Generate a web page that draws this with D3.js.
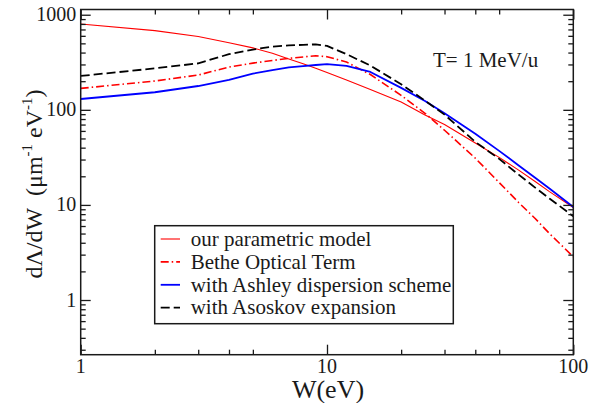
<!DOCTYPE html>
<html><head><meta charset="utf-8">
<script src="https://cdn.jsdelivr.net/npm/d3@7/dist/d3.min.js"></script>
<style>
body{margin:0;background:#fff}
svg{display:block}
text{font-family:"Liberation Serif","Times New Roman",serif;fill:#1a1a1a}
</style>
</head><body>
<svg id="chart" width="609" height="403"></svg>
<script>
// ---- data ----
const energies = [1,2,3,4,5,6,7,8,9,10,12,15,20,25,30,40,50,60,70,80,100];
const modelValues   = [800,680,590,507,448,394,343,305,274,247,206,164,121,88,70,44.8,31.6,23.2,17.6,13.8,9.4];
const betheValues   = [168,201,232,282,310,330,348,360,370,362,318,235,142,92,61,31,17.2,10.6,7.2,5.0,2.85];
const ashleyValues  = [130,153,178,206,240,262,279,288,296,303,290,250,170,124,92,56,37,26,19.3,14.9,9.5];
const asoskovValues = [227,273,308,385,430,462,475,483,488,470,385,292,186,125,89,46,30.5,20.8,15.2,11.7,7.6];
const seriesLabels = ["our parametric model","Bethe Optical Term","with Ashley dispersion scheme","with Asoskov expansion"];
const xMajorTicks = [1,10,100];
const xMinorTicks = [2,3,4,5,20,30,40,50];
const yMajorTicks = [1,10,100,1000];
const yMinorTicks = [0.3,0.4,0.5,0.6,0.7,0.8,0.9,2,3,4,5,6,7,8,9,20,30,40,50,60,70,80,90,200,300,400,500,600,700,800,900];
const annotation = "T= 1 MeV/u";

// ---- layout ----
const L = 80.7, R = 573.3, T = 9.5, B = 354.7;
const x = d3.scaleLog().domain([1,100]).range([L,R]);
const y = d3.scaleLog().domain([0.266,1135]).range([B,T]);

const svg = d3.select("#chart");
svg.append("defs").append("clipPath").attr("id","clip")
  .append("rect").attr("x",L).attr("y",T).attr("width",R-L).attr("height",B-T);

const styles = [
  {color:"#ff0000", width:1.1, dash:null},
  {color:"#ff0000", width:1.6, dash:"8,3,1.5,3"},
  {color:"#0000ff", width:1.8, dash:null},
  {color:"#000000", width:1.8, dash:"9,4"}
];
const allSeries = [modelValues, betheValues, ashleyValues, asoskovValues];

const line = d3.line().x(d=>x(d[0])).y(d=>y(d[1]));
const g = svg.append("g").attr("clip-path","url(#clip)");
allSeries.forEach((vals,i)=>{
  g.append("path")
    .attr("d", line(energies.map((e,j)=>[e, vals[j]])))
    .attr("fill","none")
    .attr("stroke", styles[i].color)
    .attr("stroke-width", styles[i].width)
    .attr("stroke-dasharray", styles[i].dash)
    .attr("stroke-linejoin","round");
});

// ---- axes (ticks inward on all four sides) ----
const axisColor = "#1a1a1a";
function addAxis(gen, transform){
  const a = svg.append("g").attr("transform", transform).call(gen);
  a.select(".domain").remove();
  a.selectAll(".tick line").attr("stroke", axisColor).attr("stroke-width",1.3);
  return a;
}
const major = 10, minor = 5;
addAxis(d3.axisTop(x).tickValues(xMajorTicks).tickSize(major).tickFormat(""), `translate(0,${B})`);
addAxis(d3.axisTop(x).tickValues(xMinorTicks).tickSize(minor).tickFormat(""), `translate(0,${B})`);
addAxis(d3.axisBottom(x).tickValues(xMajorTicks).tickSize(major).tickFormat(""), `translate(0,${T})`);
addAxis(d3.axisBottom(x).tickValues(xMinorTicks).tickSize(minor).tickFormat(""), `translate(0,${T})`);
addAxis(d3.axisRight(y).tickValues(yMajorTicks).tickSize(major).tickFormat(""), `translate(${L},0)`);
addAxis(d3.axisRight(y).tickValues(yMinorTicks).tickSize(minor).tickFormat(""), `translate(${L},0)`);
addAxis(d3.axisLeft(y).tickValues(yMajorTicks).tickSize(major).tickFormat(""), `translate(${R},0)`);
addAxis(d3.axisLeft(y).tickValues(yMinorTicks).tickSize(minor).tickFormat(""), `translate(${R},0)`);

svg.append("rect").attr("x",L).attr("y",T).attr("width",R-L).attr("height",B-T)
  .attr("fill","none").attr("stroke",axisColor).attr("stroke-width",1.5);

// tick labels
svg.append("g").selectAll("text").data(xMajorTicks).join("text")
  .attr("x",d=>x(d)).attr("y",373).attr("text-anchor","middle")
  .attr("font-size",20).text(d=>d3.format("d")(d));
svg.append("g").selectAll("text").data(yMajorTicks).join("text")
  .attr("x",L-4.5).attr("y",d=>y(d)+6.5).attr("text-anchor","end")
  .attr("font-size",20).text(d=>d3.format("d")(d));

// axis titles
svg.append("text").attr("x",(L+R)/2+1).attr("y",398).attr("text-anchor","middle")
  .attr("font-size",26).text("W(eV)");

const yt = svg.append("text").attr("transform","translate(42,184) rotate(-90)")
  .attr("text-anchor","middle").attr("font-size",24);
yt.append("tspan").text("d\u039B/dW\u00A0\u00A0(\u03BCm");
yt.append("tspan").attr("font-size",15).attr("dy",-10).text("-1");
yt.append("tspan").attr("dy",10).text("\u00A0eV");
yt.append("tspan").attr("font-size",15).attr("dy",-10).text("-1");
yt.append("tspan").attr("dy",10).text(")");

// annotation
svg.append("text").attr("x",433).attr("y",66.5).attr("font-size",21).text(annotation);

// legend
const lg = svg.append("g");
lg.append("rect").attr("x",154.7).attr("y",225.7).attr("width",298.6).attr("height",98)
  .attr("fill","#fff").attr("stroke",axisColor).attr("stroke-width",1.5);
seriesLabels.forEach((lab,i)=>{
  const cy = 239 + i*22.9;
  lg.append("line").attr("x1",160.7).attr("x2",180).attr("y1",cy).attr("y2",cy)
    .attr("stroke",styles[i].color).attr("stroke-width",styles[i].width)
    .attr("stroke-dasharray",styles[i].dash);
  lg.append("text").attr("x",190.7).attr("y",cy+6.7).attr("font-size",21).text(lab);
});
</script>
</body></html>
